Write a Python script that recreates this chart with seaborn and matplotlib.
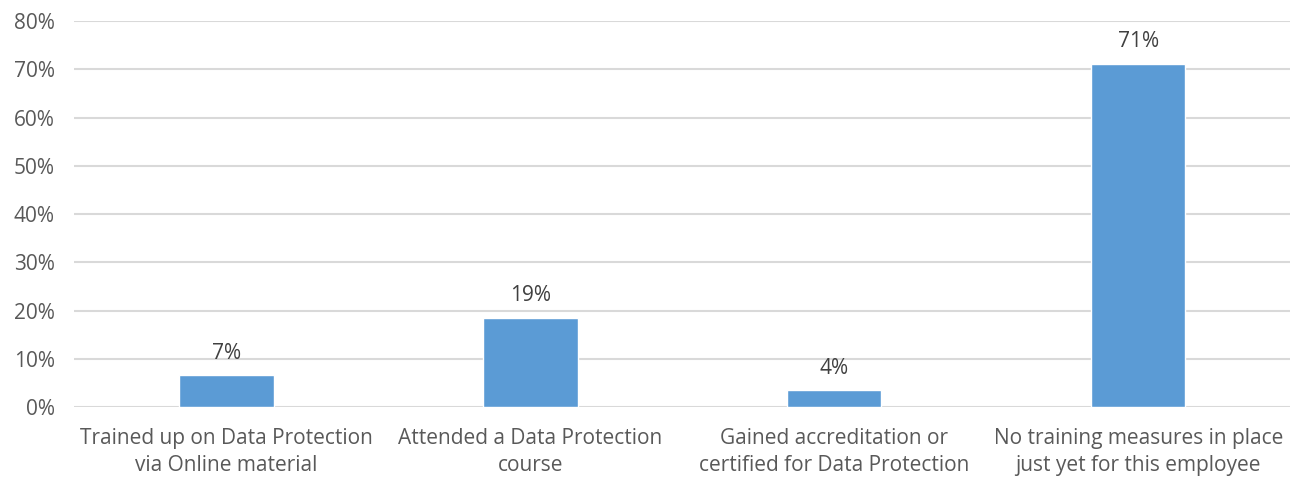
import seaborn as sns
import matplotlib.pyplot as plt
import pandas as pd
from matplotlib.ticker import PercentFormatter

categories = [
    "Trained up on Data Protection\nvia Online material",
    "Attended a Data Protection\ncourse",
    "Gained accreditation or\ncertified for Data Protection",
    "No training measures in place\njust yet for this employee",
]
values = [6.6, 18.5, 3.5, 71.2]
labels = ["7%", "19%", "4%", "71%"]

df = pd.DataFrame({"category": categories, "value": values})

sns.set_style("white")
plt.rcParams["font.family"] = ["Open Sans", "DejaVu Sans"]

fig, ax = plt.subplots(figsize=(13.06, 4.79), dpi=100)
fig.subplots_adjust(left=0.057, right=0.988, top=0.956, bottom=0.15)

sns.barplot(data=df, x="category", y="value", color="#5B9BD5", width=0.31,
            saturation=1, ax=ax, zorder=3)

for i, (v, lab) in enumerate(zip(values, labels)):
    ax.text(i, v + 2.4, lab, ha="center", va="bottom", fontsize=15, color="#404040")

ax.set_ylim(0, 80)
ax.set_yticks(range(0, 81, 10))
ax.yaxis.set_major_formatter(PercentFormatter(decimals=0))
ax.set_xlim(-0.5, 3.5)
ax.grid(axis="y", color="#D9D9D9", linewidth=1.5, zorder=0)
ax.set_axisbelow(True)
for s in ax.spines.values():
    s.set_visible(False)
ax.tick_params(axis="both", length=0, labelsize=15, colors="#595959")
ax.tick_params(axis="x", pad=15)
ax.tick_params(axis="y", pad=14)
for t in ax.get_xticklabels():
    t.set_linespacing(1.4)
ax.set_xlabel("")
ax.set_ylabel("")

plt.savefig("out.png", dpi=100)
